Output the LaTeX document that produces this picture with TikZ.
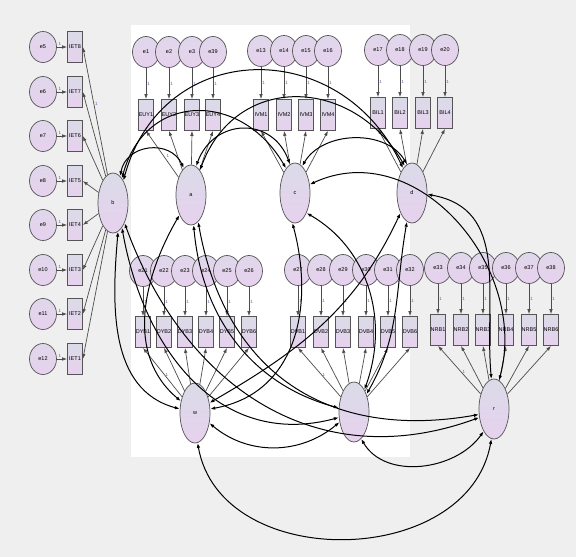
\documentclass[tikz,border=0pt]{standalone}
\usepackage{fontspec}
\setmainfont{Liberation Sans}
\usetikzlibrary{shapes.geometric,arrows.meta}
\definecolor{bgcol}{RGB}{239,239,239}
\definecolor{topcol}{RGB}{218,219,232}
\definecolor{botcol}{RGB}{231,209,238}
\definecolor{edgecol}{RGB}{85,85,85}
\definecolor{onecol}{RGB}{80,100,165}
\begin{document}
\begin{tikzpicture}[x=1pt,y=1pt,
latent/.style ={ellipse, draw=edgecol, line width=0.7pt, top color=topcol, bottom color=botcol,
  minimum width=30pt, minimum height=60pt, inner sep=0pt,
  font=\fontsize{5.5}{6}\selectfont
},
err/.style ={ellipse, draw=edgecol, line width=0.7pt, top color=topcol!60!botcol, bottom color=botcol,
  minimum width=27pt, minimum height=31pt, inner sep=0pt,
  font=\fontsize{5.5}{6}\selectfont
},
item/.style ={rectangle, draw=edgecol, line width=0.7pt, top color=topcol, bottom color=botcol,
  minimum width=15pt, minimum height=31pt, inner sep=0pt,
  font=\fontsize{5.5}{6}\selectfont
},
load/.style ={draw=black!70, line width=0.7pt, -{Latex[length=5pt,width=3.5pt]}},
cov/.style ={draw=black, line width=1pt, {Latex[length=5pt,width=3.5pt]}-{Latex[length=5pt,width=3.5pt]}},
one/.style ={font=\fontsize{4.5}{5}\selectfont, text=onecol, inner sep=1pt}
]
\useasboundingbox (0,0) rectangle (576,-557);
\fill[bgcol] (0,0) rectangle (576,-557);
\fill[white] (131,-25) rectangle (410,-457);

% latent variables
\node (b) at (113,-203) [latent] {b};
\node (a) at (191,-195) [latent] {a};
\node (c) at (295,-193) [latent] {c};
\node (d) at (412,-193) [latent] {d};
\node (w) at (195,-413) [latent] {w};
\node (v) at (354,-412) [latent] {};
\node (r) at (494,-409) [latent] {r};

% indicators of b
\foreach \i/\e/\y in {8/5/47, 7/6/92, 6/7/136, 5/8/181, 4/9/225, 3/10/270, 2/11/314, 1/12/359} {
  \node (iet\i) at (75,-\y) [item] {IET\i};
  \node (e\e) at (43,-\y) [err] {e\e};
  \draw[load] (e\e) -- node[one, above, pos=0.3] {1} (iet\i);
  \draw[load] (b) -- (iet\i.east);
}
\path (b) -- node[one, right, pos=0.55] {1} (iet8.east);

% indicators of a, c, d
\foreach \i/\e/\x in {1/1/146, 2/2/169, 3/3/192, 4/39/213} {
  \node (euy\i) at (\x,-115) [item] {EUY\i};
  \node (e\e) at (\x,-52) [err] {e\e};
  \draw[load] (e\e) -- node[one, right] {1} (euy\i);
  \draw[load] (a) -- (euy\i.south);
}
\path (a) -- node[one, above right, pos=0.4] {1} (euy1.south);
\foreach \i/\e/\x in {1/13/261, 2/14/284, 3/15/306, 4/16/328} {
  \node (ivm\i) at (\x,-115) [item] {IVM\i};
  \node (e\e) at (\x,-51) [err] {e\e};
  \draw[load] (e\e) -- node[one, right] {1} (ivm\i);
  \draw[load] (c) -- (ivm\i.south);
}
\foreach \i/\e/\x in {1/17/378, 2/18/400, 3/19/423, 4/20/445} {
  \node (bil\i) at (\x,-113) [item] {BIL\i};
  \node (e\e) at (\x,-50) [err] {e\e};
  \draw[load] (e\e) -- node[one, right] {1} (bil\i);
  \draw[load] (d) -- (bil\i.south);
}

% indicators of w, v, r
\foreach \i/\e/\x in {1/21/143, 2/22/164, 3/23/185, 4/24/206, 5/25/227, 6/26/249} {
  \node (dyb\i) at (\x,-332) [item] {DYB\i};
  \node (e\e) at (\x,-271) [err] {e\e};
  \draw[load] (e\e) -- node[one, right] {1} (dyb\i);
  \draw[load] (w) -- (dyb\i.south);
}
\path (w) -- node[one, right, pos=0.45] {1} (dyb1.south);
\foreach \i/\e/\x in {1/27/298, 2/28/321, 3/29/343, 4/30/366, 5/31/388, 6/32/410} {
  \node (dvb\i) at (\x,-332) [item] {DVB\i};
  \node (e\e) at (\x,-270) [err] {e\e};
  \draw[load] (e\e) -- node[one, right] {1} (dvb\i);
  \draw[load] (v) -- (dvb\i.south);
}
\path (v) -- node[one, right, pos=0.45] {1} (dvb1.south);
\foreach \i/\e/\x in {1/33/438, 2/34/461, 3/35/483, 4/36/506, 5/37/529, 6/38/551} {
  \node (nrb\i) at (\x,-330) [item] {NRB\i};
  \node (e\e) at (\x,-268) [err] {e\e};
  \draw[load] (e\e) -- node[one, right] {1} (nrb\i);
  \draw[load] (r) -- (nrb\i.south);
}
\path (r) -- node[one, right, pos=0.45] {1} (nrb1.south);

% covariances
\draw[cov] (b.75) to[out=80, in=115, looseness=1.3] (a.105);
\draw[cov] (b.70) to[out=75, in=120, looseness=1.4] (c.110);
\draw[cov] (b.65) to[out=75, in=115, looseness=1.35] (d.110);
\draw[cov] (a.80) to[out=70, in=110, looseness=1.4] (c.100);
\draw[cov] (a.70) to[out=70, in=120, looseness=1.3] (d.105);
\draw[cov] (c.75) to[out=60, in=120] (d.100);
\draw[cov] (b.-80) to[out=-95, in=165] (w.165);
\draw[cov] (b.-70) to[out=-80, in=-165, looseness=1.1] (v.-160);
\draw[cov] (b.-60) to[out=-70, in=-160, looseness=1.1] (r.-150);
\draw[cov] (a.-120) to[out=-120, in=140] (w.140);
\draw[cov] (a.-85) to[out=-85, in=165] (v.165);
\draw[cov] (a.-75) to[out=-80, in=-170, looseness=1.15] (r.-160);
\draw[cov] (c.-95) to[out=-75, in=10, looseness=1.1] (w.15);
\draw[cov] (c.-60) to[out=-30, in=70] (v.65);
\draw[cov] (c.30) to[out=25, in=75, looseness=1.1] (r.80);
\draw[cov] (d.-120) to[out=-115, in=30] (w.35);
\draw[cov] (d.-100) to[out=-100, in=60] (v.55);
\draw[cov] (d.-5) to[out=-10, in=95, looseness=1.1] (r.95);
\draw[cov] (w.-35) to[out=-40, in=-140] (v.-145);
\draw[cov] (w.-85) to[out=-80, in=-100, looseness=1.15] (r.-95);
\draw[cov] (v.-75) to[out=-60, in=-125] (r.-115);
\end{tikzpicture}
\end{document}
